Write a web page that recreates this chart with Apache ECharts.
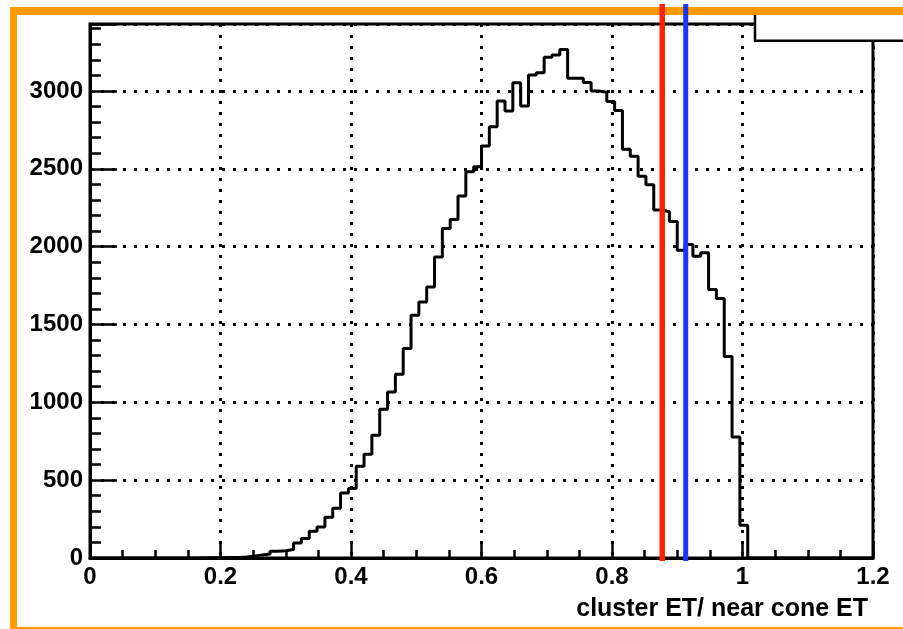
<!DOCTYPE html>
<html><head><meta charset="utf-8">
<script src="https://cdn.jsdelivr.net/npm/echarts@6/dist/echarts.min.js"></script>
<style>html,body{margin:0;padding:0;background:#fff;}#c{width:903px;height:629px;}</style>
</head><body><div id="c"></div>
<script>
// ---- data ----
const binWidth = 0.012;           // 100 bins from 0 to 1.2
const binCounts = [
  0,0,0,0,0,0,0,0,0,0,
  0,0,0,0,1,2,2,3,4,7,
  12,20,25,44,47,54,96,126,172,199,
  262,320,417,446,589,666,789,956,1067,1181,
  1346,1560,1645,1740,1934,2117,2175,2325,2481,2513,
  2646,2770,2935,2871,3053,2903,3102,3117,3216,3231,
  3267,3081,3081,3055,2999,2992,2932,2874,2625,2580,
  2452,2398,2236,2224,2162,1977,2014,1939,1960,1725,
  1667,1295,778,210,0,0,0,0,0,0,
  0,0,0,0,0,0,0,0,0,0
];
const xMin = 0, xMax = 1.2, xStep = 0.2;
const yMin = 0, yMax = 3430, yStep = 500, yMinorStep = 100;
const cutRed = 0.877;
const cutBlue = 0.913;
const xTitle = 'cluster ET/ near cone ET';

// ---- build ----
const histData = binCounts.map((v, i) => [+(i * binWidth).toFixed(4), v]);
histData.push([+(binCounts.length * binWidth).toFixed(4), binCounts[binCounts.length - 1]]);

const FONT = 'Liberation Sans';
const chart = echarts.init(document.getElementById('c'), null, {renderer: 'canvas'});
const tickStyle = {color: '#000', width: 2.5};
chart.setOption({
  animation: false,
  backgroundColor: '#fff',
  grid: {left: 90, top: 24, right: 30, bottom: 71, show: true, borderColor: '#000', borderWidth: 3,
         backgroundColor: 'transparent', containLabel: false, outerBoundsMode: 'none'},
  xAxis: {
    type: 'value', min: xMin, max: xMax, interval: xStep,
    axisLine: {show: true, onZero: false, lineStyle: {color: '#000', width: 3}},
    axisTick: {show: true, inside: true, length: 15, lineStyle: tickStyle},
    minorTick: {show: true, splitNumber: 4, length: 8, lineStyle: tickStyle},
    splitLine: {show: true, lineStyle: {color: '#000', width: 3, type: [3, 8]}},
    minorSplitLine: {show: false},
    axisLabel: {color: '#000', fontSize: 24, fontWeight: 'bold', fontFamily: FONT, margin: 7,
                formatter: v => String(+v.toFixed(1))}
  },
  yAxis: [{
    type: 'value', min: yMin, max: yMax, interval: yStep,
    axisLine: {show: true, lineStyle: {color: '#000', width: 3}},
    axisTick: {show: true, inside: true, length: 27, lineStyle: tickStyle},
    splitLine: {show: true, lineStyle: {color: '#000', width: 3, type: [3, 8]}},
    axisLabel: {color: '#000', fontSize: 24, fontWeight: 'bold', fontFamily: FONT, margin: 7,
                formatter: v => (v > 3000 ? '' : String(v))}
  }, {
    type: 'value', min: yMin, max: yMax, interval: yMinorStep, position: 'left', offset: 0,
    axisLine: {show: false},
    axisTick: {show: true, inside: true, length: 11, lineStyle: tickStyle},
    splitLine: {show: false},
    axisLabel: {show: false}
  }],
  series: [{
    type: 'line', step: 'end', data: histData, symbol: 'none', showSymbol: false,
    lineStyle: {color: '#000', width: 3}, yAxisIndex: 0, z: 5
  }]
});

const xr = chart.convertToPixel({xAxisIndex: 0}, cutRed);
const xb = chart.convertToPixel({xAxisIndex: 0}, cutBlue);
const y0 = chart.convertToPixel({yAxisIndex: 0}, 0);
chart.setOption({
  graphic: [
    {type: 'rect', z: 100, shape: {x: 755, y: 11, width: 200, height: 29.7},
     style: {fill: '#fff', stroke: '#000', lineWidth: 2.5}},
    {type: 'rect', z: 101, shape: {x: 10, y: 7, width: 900, height: 8}, style: {fill: '#ff9900'}},
    {type: 'rect', z: 101, shape: {x: 10, y: 7, width: 7, height: 625}, style: {fill: '#ff9900'}},
    {type: 'rect', z: 101, shape: {x: 10, y: 627, width: 900, height: 2}, style: {fill: '#ff9900'}},
    {type: 'line', z: 102, shape: {x1: xr, y1: 4, x2: xr, y2: y0 + 3},
     style: {stroke: '#ff2200', lineWidth: 5.5}},
    {type: 'line', z: 102, shape: {x1: xb, y1: 4, x2: xb, y2: y0 + 3},
     style: {stroke: '#1438ff', lineWidth: 5}},
    {type: 'text', z: 102, style: {x: 868, y: 609, text: xTitle, textAlign: 'right',
      textVerticalAlign: 'middle', font: 'bold 25px "Liberation Sans"', fill: '#000'}}
  ]
});
</script></body></html>
